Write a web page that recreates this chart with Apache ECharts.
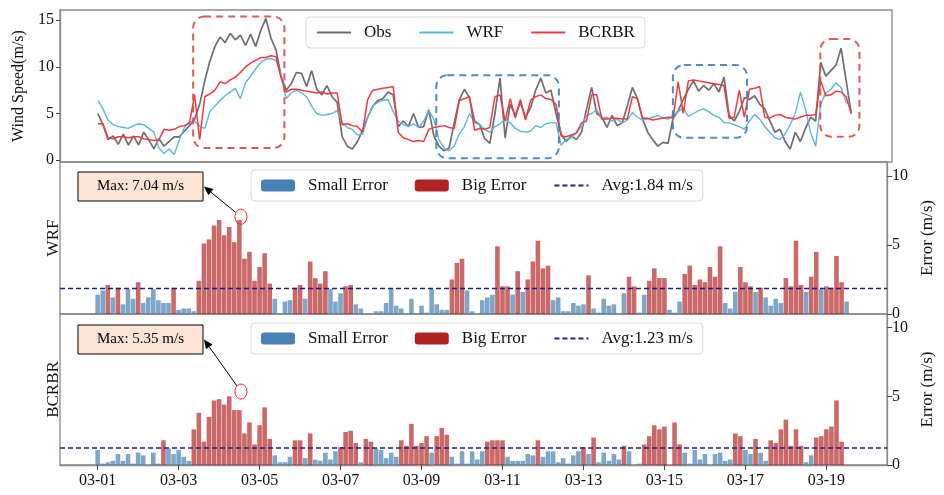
<!DOCTYPE html>
<html>
<head>
<meta charset="utf-8">
<title>Wind speed and error</title>
<script src="https://cdn.jsdelivr.net/npm/echarts@6/dist/echarts.min.js"></script>
<style>
  html, body { margin: 0; padding: 0; background: #fff; }
  #chart { width: 944px; height: 495px; }
</style>
</head>
<body>
<div id="chart"></div>
<script>
// values, one every 3 h from 03-01 00:00
const STEP_DAYS = 0.125;
const OBS = [
  5.0, 3.8, 2.2, 2.6, 1.7, 2.8, 1.6, 2.6,
  1.6, 3.0, 2.2, 1.2, 2.3, 1.5, 2.0, 2.5,
  2.5, 3.1, 3.7, 4.4, 6.0, 8.5, 10.6, 12.2,
  13.2, 12.6, 13.6, 12.9, 13.4, 12.3, 13.5, 12.2,
  13.9, 15.2, 13.1, 11.8, 9.0, 7.5, 8.2, 9.4,
  9.3, 7.9, 9.6, 7.6, 7.0, 8.0, 6.8, 6.2,
  2.5, 1.5, 1.2, 2.0, 3.2, 4.6, 5.8, 6.4,
  6.6, 7.3, 7.0, 3.6, 4.2, 3.6, 5.0, 3.5,
  3.6, 5.4, 2.6, 1.5, 1.0, 1.3, 4.0, 6.5,
  7.6, 6.7, 4.2, 3.8, 2.3, 1.8, 5.0, 8.8,
  2.4, 6.0, 4.8, 6.2, 4.6, 5.6, 7.5, 8.8,
  7.2, 7.5, 5.0, 2.8, 2.0, 2.6, 2.2, 3.0,
  5.5, 7.8, 5.0, 4.6, 3.5, 4.8, 3.7, 4.0,
  5.8, 7.8, 6.6, 4.4, 3.0, 2.2, 1.5, 1.9,
  1.8, 4.5, 5.3, 6.5, 7.6, 8.5, 7.4, 8.0,
  7.5, 8.2, 7.3, 8.9, 4.8, 4.2, 5.2, 6.7,
  6.5, 6.9, 6.0, 5.5, 4.2, 3.0, 3.3, 2.0,
  1.2, 3.0, 2.0, 3.4, 4.6, 4.2, 10.5, 9.0,
  9.6, 10.2, 12.0, 8.5, 5.0
];
const WRF = [
  6.4, 5.5, 4.3, 3.8, 3.6, 3.5, 3.4, 3.7,
  3.9, 3.8, 3.4, 3.0, 1.3, 0.7, 1.2, 0.6,
  2.2, 3.5, 4.1, 4.2, 3.6, 3.4, 5.2, 5.8,
  6.4, 6.9, 7.3, 7.7, 6.6, 8.3, 9.0, 9.8,
  10.5, 10.8, 10.9, 10.7, 9.0, 6.6, 7.2, 7.5,
  7.2, 6.8, 5.8, 5.0, 4.8, 4.9, 5.0, 5.3,
  4.0, 3.5, 3.3, 2.7, 2.8, 4.6, 5.8, 6.2,
  6.4, 6.5, 5.2, 4.2, 3.8, 3.6, 3.9, 3.5,
  4.2, 5.3, 4.4, 2.2, 1.3, 1.0, 1.5, 2.8,
  3.6, 5.0, 4.0, 3.8, 3.3, 3.0, 3.6, 3.9,
  4.4, 4.0, 3.4, 3.1, 3.0, 3.1, 3.7, 3.5,
  3.9, 4.0, 4.0, 1.6, 2.2, 2.4, 3.0, 3.6,
  4.8, 5.0, 5.4, 4.5, 4.6, 4.2, 4.4, 4.0,
  4.3, 5.1, 4.6, 4.3, 4.4, 4.6, 4.8, 4.5,
  4.4, 4.8, 5.2, 5.6, 4.7, 5.0, 5.3, 5.5,
  5.2, 4.8, 4.6, 4.0, 4.0, 3.8, 3.6, 3.3,
  4.2, 4.9, 4.4, 3.6, 3.0, 2.4, 2.2, 2.8,
  3.8, 5.0, 7.3, 5.5, 3.0, 1.5, 6.0, 7.2,
  7.6, 8.3, 7.8, 6.2, 5.9
];
const BCRBR = [
  3.9, 3.9, 2.4, 2.3, 2.5, 2.5, 2.4, 2.5,
  2.5, 2.3, 2.2, 2.1, 2.2, 3.3, 3.2, 3.3,
  3.6, 3.7, 4.0, 7.0, 2.2, 6.8, 7.1, 7.5,
  8.4, 8.2, 8.6, 8.9, 9.4, 10.0, 10.4, 10.7,
  11.0, 11.0, 11.2, 11.1, 8.8, 7.3, 7.6, 7.6,
  7.5, 7.4, 7.3, 7.2, 7.3, 7.1, 7.2, 7.2,
  3.8, 3.9, 3.7, 3.6, 3.0, 6.5, 7.5, 7.6,
  7.7, 7.8, 7.9, 3.0, 2.4, 2.2, 2.0, 2.1,
  2.0, 3.3, 3.5, 3.6, 3.7, 3.5, 3.4, 6.4,
  6.6, 6.8, 3.2, 3.4, 3.3, 3.5, 6.8, 7.0,
  4.2, 6.6, 4.5, 6.5, 4.3, 6.4, 6.8, 7.0,
  6.6, 6.5, 6.0, 2.6, 2.5, 2.7, 2.9, 4.0,
  4.2, 7.0, 7.0, 4.4, 4.4, 4.5, 4.5, 4.4,
  4.4, 6.8, 6.6, 4.5, 4.5, 4.3, 4.4, 4.5,
  4.6, 4.5, 8.4, 5.0, 8.5, 8.6, 8.5, 8.4,
  8.3, 8.2, 8.1, 8.0, 4.5, 4.6, 7.5, 4.6,
  7.6, 7.7, 7.9, 4.6, 4.5, 4.8, 4.9, 4.6,
  4.5, 4.4, 4.6, 4.8, 4.8, 4.9, 8.5, 6.9,
  7.0, 7.4, 7.3, 6.8, 5.0
];

const TICK_DAYS = [0, 2, 4, 6, 8, 10, 12, 14, 16, 18];
const TICK_LABELS = ["03-01", "03-03", "03-05", "03-07", "03-09", "03-11", "03-13", "03-15", "03-17", "03-19"];
const SPEED_TICKS = [0, 5, 10, 15];
const ERROR_TICKS = [0, 5, 10];

const AVG_WRF = 1.84;
const AVG_BCRBR = 1.23;
// max error marks (day, value)
const MAX_WRF = [3.54, 7.04];
const MAX_BCRBR = [3.54, 5.35];

// dashed highlight boxes on the wind panel: [day0, day1, speed0, speed1]
const BOXES_RED = [[2.34, 4.58, 1.3, 15.4], [17.74, 18.7, 2.5, 13.0]];
const BOXES_BLUE = [[8.31, 11.32, 0.2, 9.1], [14.12, 15.94, 2.4, 10.2]];

const XMIN = -0.93, XMAX = 19.5;
const FONT = "Liberation Serif";

const t = i => +(i * STEP_DAYS).toFixed(3);
const pts = arr => arr.map((v, i) => [t(i), v]);
const errOf = model => OBS.map((o, i) => +Math.abs(model[i] - o).toFixed(2));
const ERR_WRF = errOf(WRF);
const ERR_BCRBR = errOf(BCRBR);

const BLUE_BAR = "rgba(70,130,180,0.7)";
const RED_BAR = "rgba(178,34,34,0.68)";
const FRAME = "#8a8a8a";
const avgName = a => "Avg:" + a.toFixed(2) + " m/s";

function errorSeries(err, avg, axis, yIdx) {
  const small = err.map((e, i) => [t(i), e <= avg ? e : "-"]);
  const big = err.map((e, i) => [t(i), e > avg ? e : "-"]);
  return [
    { name: "Small Error", type: "bar", xAxisIndex: axis, yAxisIndex: yIdx,
      data: small, barWidth: 4.6, barGap: "-100%", itemStyle: { color: BLUE_BAR }, silent: true },
    { name: "Big Error", type: "bar", xAxisIndex: axis, yAxisIndex: yIdx,
      data: big, barWidth: 4.6, barGap: "-100%", itemStyle: { color: RED_BAR }, silent: true },
    { name: avgName(avg), type: "line", xAxisIndex: axis, yAxisIndex: yIdx,
      data: [[XMIN, avg], [XMAX, avg]], symbol: "none", z: 5,
      lineStyle: { color: "#1c1c8f", width: 1.5, type: [5, 3] }, itemStyle: { color: "#1c1c8f" } }
  ];
}

const gridBox = { left: 60, right: 52, show: true, borderColor: FRAME, borderWidth: 1.3 };
const frameLine = { show: true, onZero: false, lineStyle: { color: FRAME, width: 1.3 } };
const tickStyle = { color: "#444", width: 1 };
const hiddenX = i => ({
  type: "value", gridIndex: i, min: XMIN, max: XMAX,
  axisLine: { show: false, onZero: false }, axisTick: { show: false }, axisLabel: { show: false },
  splitLine: { show: false }
});
const labelStyle = { fontFamily: FONT, fontSize: 16, color: "#111" };
const legendBase = {
  orient: "horizontal", itemWidth: 34, itemHeight: 12, itemGap: 27,
  backgroundColor: "rgba(255,255,255,0.85)", borderColor: "#d9d9d9", borderWidth: 1, borderRadius: 4,
  padding: [7, 10, 7, 10], textStyle: { fontFamily: FONT, fontSize: 17, color: "#111", padding: [0, 0, 0, 8] }
};
const errRightY = (grid, name) => ({
  type: "value", gridIndex: grid, position: "right", min: 0, max: 11,
  name: name, nameLocation: "middle", nameGap: 28, nameRotate: 90,
  nameTextStyle: { fontFamily: FONT, fontSize: 17, color: "#111" },
  axisLine: frameLine,
  axisTick: { show: true, length: 5, customValues: ERROR_TICKS, lineStyle: tickStyle },
  axisLabel: Object.assign({ customValues: ERROR_TICKS, margin: 5 }, labelStyle),
  splitLine: { show: false }
});
const nameLeftY = (grid, name) => ({
  type: "value", gridIndex: grid, position: "left", min: 0, max: 11,
  name: name, nameLocation: "middle", nameGap: -2, nameRotate: 90,
  nameTextStyle: { fontFamily: FONT, fontSize: 17, color: "#111" },
  axisLine: { show: false, onZero: false }, axisTick: { show: false }, axisLabel: { show: false },
  splitLine: { show: false }
});
const lineLegendItem = name => ({ name: name, itemStyle: { opacity: 0 } });
const errLegend = (top, avg) => Object.assign({}, legendBase, {
  left: 251, top: top,
  data: [
    { name: "Small Error", itemStyle: { color: "#4682b4", opacity: 1 } },
    { name: "Big Error", itemStyle: { color: "#b22222", opacity: 1 } },
    lineLegendItem(avgName(avg))
  ]
});

const chart = echarts.init(document.getElementById("chart"));

const option = {
  backgroundColor: "#fff",
  animation: false,
  grid: [
    Object.assign({ top: 10, height: 152 }, gridBox),
    Object.assign({ top: 162, height: 152 }, gridBox),
    Object.assign({ top: 314, height: 151 }, gridBox)
  ],
  xAxis: [
    hiddenX(0),
    hiddenX(1),
    {
      type: "value", gridIndex: 2, min: XMIN, max: XMAX,
      axisLine: frameLine,
      axisTick: { show: true, length: 5, customValues: TICK_DAYS, lineStyle: tickStyle },
      axisLabel: Object.assign({
        customValues: TICK_DAYS, margin: 8,
        formatter: v => TICK_LABELS[TICK_DAYS.indexOf(Math.round(v))] || ""
      }, labelStyle),
      splitLine: { show: false }
    }
  ],
  yAxis: [
    {
      type: "value", gridIndex: 0, min: -0.2, max: 16.1,
      name: "Wind Speed(m/s)", nameLocation: "middle", nameGap: 32,
      nameTextStyle: { fontFamily: FONT, fontSize: 16, color: "#111" },
      axisLine: frameLine,
      axisTick: { show: true, length: 4, customValues: SPEED_TICKS, lineStyle: tickStyle },
      axisLabel: Object.assign({ customValues: SPEED_TICKS, margin: 6 }, labelStyle),
      splitLine: { show: false }
    },
    errRightY(1, "Error (m/s)"),
    nameLeftY(1, "WRF"),
    errRightY(2, "Error (m/s)"),
    nameLeftY(2, "BCRBR")
  ],
  legend: [
    Object.assign({}, legendBase, {
      left: 306, top: 17,
      data: [lineLegendItem("Obs"), lineLegendItem("WRF"), lineLegendItem("BCRBR")]
    }),
    errLegend(170, AVG_WRF),
    errLegend(323, AVG_BCRBR)
  ],
  series: [
    { name: "Obs", type: "line", xAxisIndex: 0, yAxisIndex: 0, data: pts(OBS), symbol: "none",
      lineStyle: { color: "#6e6e6e", width: 1.7 }, itemStyle: { color: "#6e6e6e" } },
    { name: "WRF", type: "line", xAxisIndex: 0, yAxisIndex: 0, data: pts(WRF), symbol: "none",
      lineStyle: { color: "#5cb6dd", width: 1.4 }, itemStyle: { color: "#5cb6dd" } },
    { name: "BCRBR", type: "line", xAxisIndex: 0, yAxisIndex: 0, data: pts(BCRBR), symbol: "none",
      lineStyle: { color: "#f2393d", width: 1.5 }, itemStyle: { color: "#f2393d" } }
  ]
    .concat(errorSeries(ERR_WRF, AVG_WRF, 1, 1))
    .concat(errorSeries(ERR_BCRBR, AVG_BCRBR, 2, 3))
};

chart.setOption(option);

// decorations: dashed boxes, max circles, notes with arrows
const toPx = (grid, yIdx, x, y) => chart.convertToPixel({ xAxisIndex: grid, yAxisIndex: yIdx }, [x, y]);
const graphics = [];

function dashedBox(b, color) {
  const p0 = toPx(0, 0, b[0], b[3]);
  const p1 = toPx(0, 0, b[1], b[2]);
  graphics.push({
    type: "rect", z: 20, silent: true,
    shape: { x: p0[0], y: p0[1], width: p1[0] - p0[0], height: p1[1] - p0[1], r: 11 },
    style: { fill: "none", stroke: color, lineWidth: 2, lineDash: [7, 5] }
  });
}
BOXES_RED.forEach(b => dashedBox(b, "rgba(214,74,74,0.9)"));
BOXES_BLUE.forEach(b => dashedBox(b, "rgba(60,124,192,0.9)"));

function maxNote(grid, yIdx, mark, boxTop) {
  const c = toPx(grid, yIdx, mark[0], mark[1]);
  const box = { x: 78, y: boxTop, w: 125, h: 29 };
  graphics.push({
    type: "ellipse", z: 21, silent: true,
    shape: { cx: c[0], cy: c[1], rx: 6, ry: 7.5 },
    style: { fill: "none", stroke: "#ff1a1a", lineWidth: 1 }
  });
  const head = [box.x + box.w + 1, box.y + box.h / 2];
  const dx = head[0] - c[0], dy = head[1] - c[1];
  const len = Math.sqrt(dx * dx + dy * dy);
  const ux = dx / len, uy = dy / len;
  const tail = [c[0] + ux * 7, c[1] + uy * 7];
  const base = [head[0] - ux * 9, head[1] - uy * 9];
  graphics.push({
    type: "line", z: 21, silent: true,
    shape: { x1: tail[0], y1: tail[1], x2: base[0], y2: base[1] },
    style: { stroke: "#000", lineWidth: 1 }
  });
  graphics.push({
    type: "polygon", z: 21, silent: true,
    shape: { points: [head, [base[0] - uy * 4, base[1] + ux * 4], [base[0] + uy * 4, base[1] - ux * 4]] },
    style: { fill: "#000" }
  });
  graphics.push({
    type: "rect", z: 22, silent: true,
    shape: { x: box.x, y: box.y, width: box.w, height: box.h },
    style: { fill: "#fbe4d6", stroke: "#000", lineWidth: 1 }
  });
  graphics.push({
    type: "text", z: 23, silent: true,
    x: box.x + box.w / 2, y: box.y + box.h / 2,
    style: {
      text: "Max: " + mark[1].toFixed(2) + " m/s", fontFamily: FONT, fontSize: 15, fill: "#000",
      align: "center", verticalAlign: "middle"
    }
  });
}
maxNote(1, 1, MAX_WRF, 172);
maxNote(2, 3, MAX_BCRBR, 325);

chart.setOption({ graphic: graphics });
</script>
</body>
</html>
